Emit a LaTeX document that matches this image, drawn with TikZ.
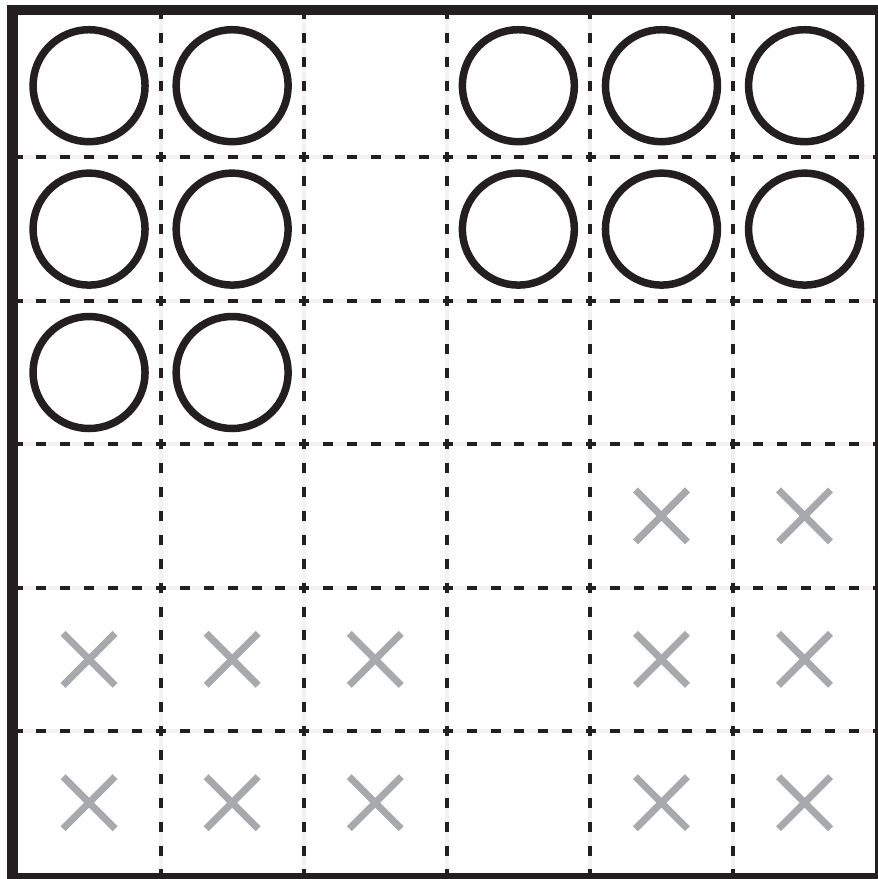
\documentclass[tikz,border=0pt]{standalone}
\usepackage{xcolor}
\definecolor{inkblack}{HTML}{231F20}
\definecolor{crossgray}{HTML}{A7A9AC}
\definecolor{lanegray}{HTML}{F2F2F2}
\begin{document}
\begin{tikzpicture}[
  x=1pt, y=-1pt,
  lane/.style={draw=lanegray, line width=4pt},
  gridline/.style={draw=inkblack, line width=4pt, dash pattern=on 10pt off 13.9pt, dash phase=5pt},
  piece/.style={draw=inkblack, line width=7.5pt},
  cross/.style={draw=crossgray, line width=7pt}
]
\useasboundingbox (0,0) rectangle (878,879);
\begin{scope}[shift={(17.5,14)}, x=143.1pt, y=-143.4pt]
  \foreach \k in {1,...,5} {
    \draw[lane] (\k,0) -- (\k,6);
    \draw[lane] (0,\k) -- (6,\k);
    \draw[gridline] (\k,0) -- (\k,6);
    \draw[gridline] (0,\k) -- (6,\k);
  }
  \foreach \c/\r in {1/1,2/1,4/1,5/1,6/1,1/2,2/2,4/2,5/2,6/2,1/3,2/3}
    \draw[piece] (\c-0.5,\r-0.5) circle[radius=56pt];
  \foreach \c/\r in {5/4,6/4,1/5,2/5,3/5,5/5,6/5,1/6,2/6,3/6,5/6,6/6} {
    \coordinate (x\c\r) at (\c-0.5,\r-0.5);
    \draw[cross] ([shift={(-26pt,-26pt)}]x\c\r) -- ([shift={(26pt,26pt)}]x\c\r);
    \draw[cross] ([shift={(-26pt,26pt)}]x\c\r) -- ([shift={(26pt,-26pt)}]x\c\r);
  }
\end{scope}
\draw[inkblack, line width=10pt] (7,10) -- (878,10);
\draw[inkblack, line width=11pt] (12.5,5) -- (12.5,879);
\draw[inkblack, line width=3pt] (876.5,5) -- (876.5,879);
\draw[inkblack, line width=6pt] (7,876) -- (878,876);
\end{tikzpicture}
\end{document}
